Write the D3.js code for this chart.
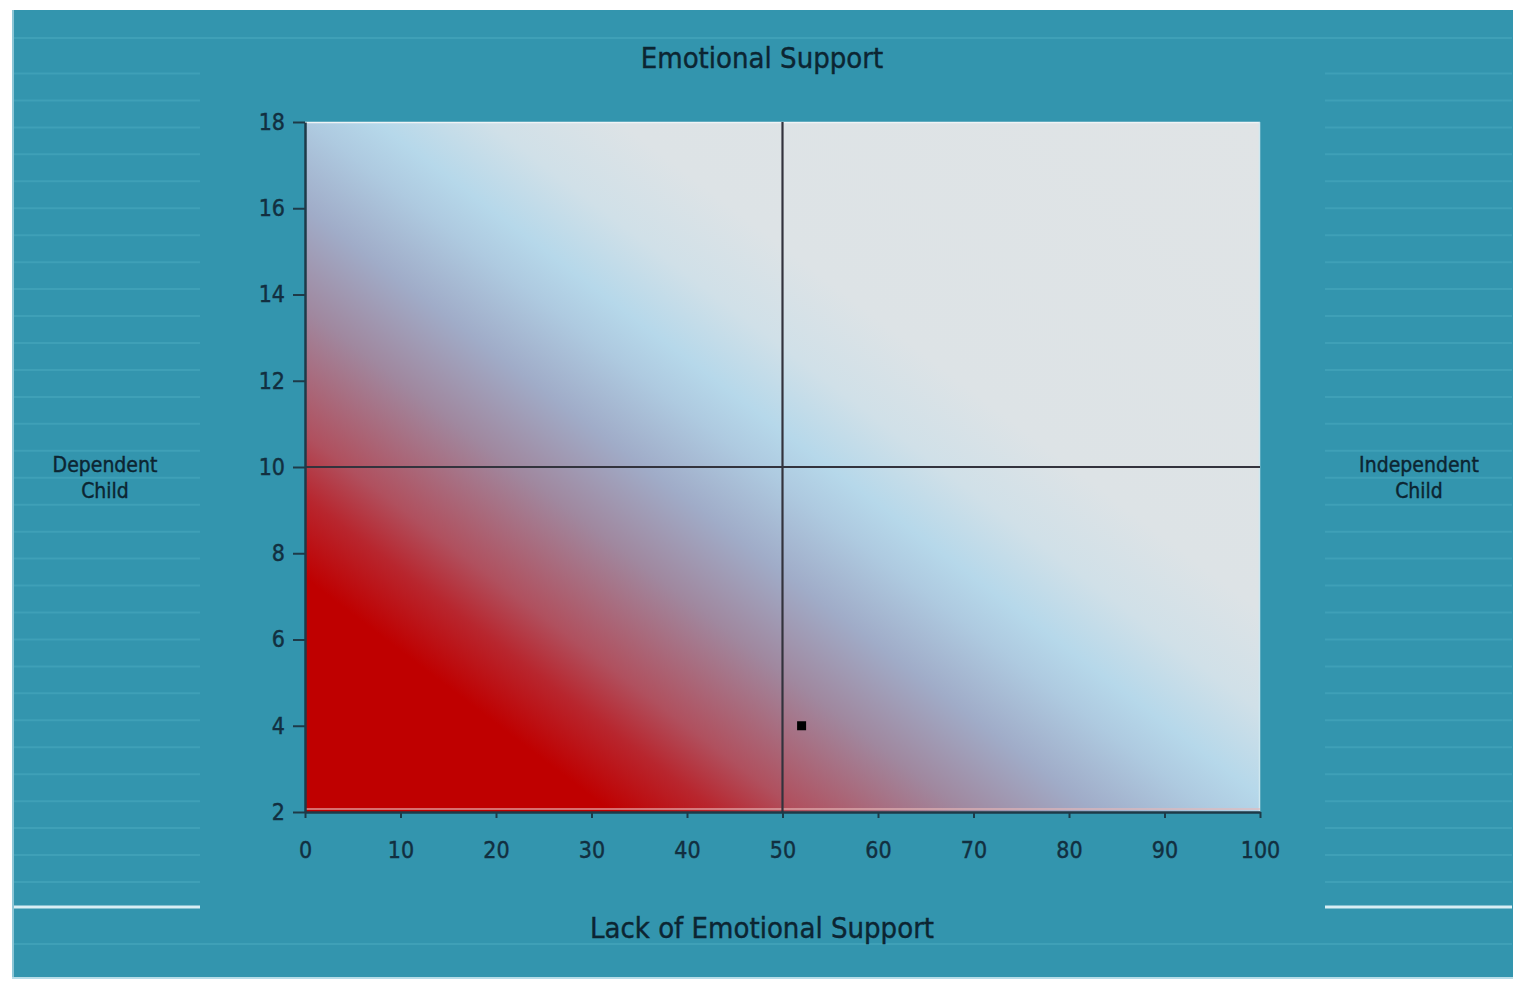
<!DOCTYPE html>
<html><head><meta charset="utf-8">
<script src="https://cdn.jsdelivr.net/npm/d3@7"></script>
<style>html,body{margin:0;padding:0;background:#fff;}svg{display:block;}</style>
</head><body>
<svg id="c" width="1525" height="995"></svg>
<script>
// ---- data ----
const xTicks = [0,10,20,30,40,50,60,70,80,90,100];
const yTicks = [2,4,6,8,10,12,14,16,18];
const xDomain = [0,100];
const yDomain = [2,18];
const crossX = 50;   // vertical divider
const crossY = 10;   // horizontal divider
const points = [{x:52, y:4}];
const titleTop = "Emotional Support";
const titleBottom = "Lack of Emotional Support";
const leftLabel = ["Dependent","Child"];
const rightLabel = ["Independent","Child"];
// gradient stops (offset along diagonal, colour)
const gradStops = [
  [0.00,"#bf0000"],[0.165,"#bf0000"],[0.222,"#b8262e"],[0.266,"#b0505e"],
  [0.355,"#a0889f"],[0.426,"#a0acc8"],[0.488,"#aecae0"],[0.525,"#b6d8ea"],
  [0.585,"#d0e0e8"],[0.656,"#dde3e6"],[1.00,"#e0e4e6"]
];

const svg = d3.select("#c");
const font = "'DejaVu Sans Condensed','DejaVu Sans',sans-serif";
const txt = "#0c2532";

// background panel
svg.append("rect").attr("x",12).attr("y",10).attr("width",1501).attr("height",968).attr("fill","#3395ae");
svg.append("line").attr("x1",13).attr("x2",13).attr("y1",10).attr("y2",978).attr("stroke","#8cc6d6").attr("stroke-width",2);
svg.append("line").attr("x1",12).attr("x2",1513).attr("y1",978).attr("y2",978).attr("stroke","#b8dde8").attr("stroke-width",2);

// faint stripes
const stripeYs = d3.range(31).map(k=>73.5+26.95*k);
const g0 = svg.append("g");
[[14,200],[1325,1512]].forEach(([a,b])=>{
  g0.selectAll(null).data(stripeYs).enter().append("line")
    .attr("x1",a).attr("x2",b).attr("y1",d=>d).attr("y2",d=>d)
    .attr("stroke","#3fa0b7").attr("stroke-width",2);
  g0.append("line").attr("x1",a).attr("x2",b).attr("y1",907).attr("y2",907)
    .attr("stroke","#d8eef4").attr("stroke-width",3);
});
[38,944].forEach(y=>g0.append("line").attr("x1",14).attr("x2",1512).attr("y1",y).attr("y2",y)
  .attr("stroke","#3fa0b7").attr("stroke-width",2));

// scales
const x = d3.scaleLinear().domain(xDomain).range([305,1260]);
const y = d3.scaleLinear().domain(yDomain).range([812,122]);

// gradient
const defs = svg.append("defs");
const dir = [0.606,-0.795];
const len = 1128;
const x0 = x(xDomain[0]), y0 = y(yDomain[0]);
const lg = defs.append("linearGradient").attr("id","bg").attr("gradientUnits","userSpaceOnUse")
  .attr("x1",x0).attr("y1",y0).attr("x2",x0+dir[0]*len).attr("y2",y0+dir[1]*len);
lg.selectAll("stop").data(gradStops).enter().append("stop")
  .attr("offset",d=>d[0]).attr("stop-color",d=>d[1]);

svg.append("rect").attr("x",x(0)).attr("y",y(18)).attr("width",x(100)-x(0)).attr("height",y(2)-y(18))
  .attr("fill","url(#bg)");
svg.append("line").attr("x1",x(0)).attr("x2",x(100)).attr("y1",y(18)+0.5).attr("y2",y(18)+0.5)
  .attr("stroke","#f0f4f6").attr("stroke-width",1.5);
svg.append("line").attr("x1",x(100)-0.5).attr("x2",x(100)-0.5).attr("y1",y(18)).attr("y2",y(2))
  .attr("stroke","#cfe8f0").attr("stroke-width",1.5);
svg.append("line").attr("x1",x(0)).attr("x2",x(100)).attr("y1",y(2)-3).attr("y2",y(2)-3)
  .attr("stroke","#e8b8b8").attr("stroke-opacity",0.6).attr("stroke-width",2);

// crosshair
svg.append("line").attr("x1",x(crossX)).attr("x2",x(crossX)).attr("y1",y(18)).attr("y2",y(2))
  .attr("stroke","#33333d").attr("stroke-width",2.2);
svg.append("line").attr("x1",x(0)).attr("x2",x(100)).attr("y1",y(crossY)).attr("y2",y(crossY))
  .attr("stroke","#33333d").attr("stroke-width",2.2);

// axes
const ax = svg.append("g").attr("transform",`translate(0,${y(2)})`)
  .call(d3.axisBottom(x).tickValues(xTicks).tickSize(6).tickPadding(24).tickSizeOuter(0));
const ay = svg.append("g").attr("transform",`translate(${x(0)},0)`)
  .call(d3.axisLeft(y).tickValues(yTicks).tickSize(12).tickPadding(8).tickSizeOuter(0));
[ax,ay].forEach(a=>{
  a.select(".domain").attr("stroke","#1e3a48").attr("stroke-width",2.5);
  a.selectAll(".tick line").attr("stroke","#1e3a48").attr("stroke-width",2);
  a.selectAll(".tick text").attr("fill","#122f40").attr("font-family",font).attr("font-size",23)
    .attr("stroke","#122f40").attr("stroke-width",0.4);
});

// points
svg.selectAll(".pt").data(points).enter().append("rect")
  .attr("x",d=>x(d.x)-4.5).attr("y",d=>y(d.y)-4.5).attr("width",9).attr("height",9).attr("fill","#000");

// titles
svg.append("text").attr("x",762).attr("y",68).attr("text-anchor","middle").attr("font-family",font)
  .attr("font-size",29).attr("fill",txt).attr("stroke",txt).attr("stroke-width",0.4).text(titleTop);
svg.append("text").attr("x",762).attr("y",938).attr("text-anchor","middle").attr("font-family",font)
  .attr("font-size",29).attr("fill",txt).attr("stroke",txt).attr("stroke-width",0.4).text(titleBottom);
[[105,leftLabel],[1419,rightLabel]].forEach(([cx,lines])=>{
  svg.append("text").attr("x",cx).attr("y",472).attr("text-anchor","middle").attr("font-family",font)
    .attr("font-size",21).attr("fill",txt).attr("stroke",txt).attr("stroke-width",0.4)
    .selectAll("tspan").data(lines).enter().append("tspan")
    .attr("x",cx).attr("dy",(d,i)=>i?26:0).text(d=>d);
});
</script>
</body></html>
